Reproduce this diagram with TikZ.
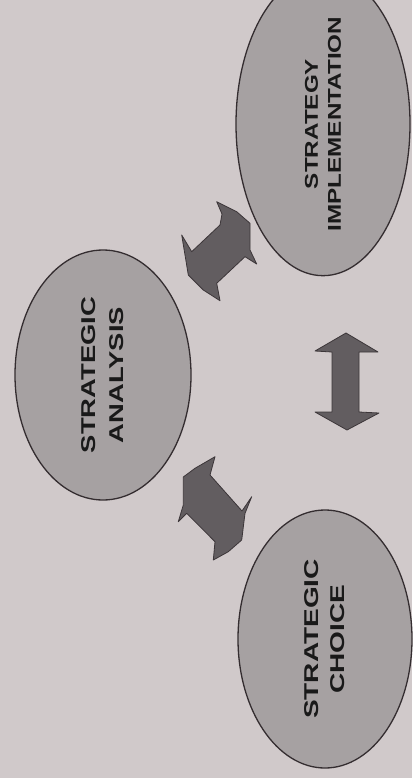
\documentclass[tikz,border=0pt]{standalone}
\usepackage{fontspec}
\setmainfont{Liberation Sans}
\usetikzlibrary{shapes.geometric}
\definecolor{paper}{RGB}{208,201,202}
\definecolor{ovalfill}{RGB}{166,161,162}
\definecolor{ovalline}{RGB}{52,45,48}
\definecolor{arrowfill}{RGB}{98,93,96}
\definecolor{arrowline}{RGB}{60,54,57}
\begin{document}
\begin{tikzpicture}[x=1pt,y=-1pt,
  oval/.style={ellipse, draw=ovalline, line width=1.3pt, fill=ovalfill, inner sep=0pt, rotate=90, align=center, text=black!90},
  blockarrow/.style={fill=arrowfill, draw=arrowline, line width=0.8pt, line join=round}]
\fill[paper] (0,0) rectangle (412,778);
\useasboundingbox (0,0) rectangle (412,778);
\node[oval, minimum width=250pt, minimum height=176pt,
      font={\fontsize{20}{28}\selectfont\bfseries\addfontfeature{FakeStretch=1.37}}] (ana) at (103,375)
      {STRATEGIC\\ANALYSIS};
\node[oval, minimum width=248pt, minimum height=174pt,
      font={\fontsize{18.5}{23}\selectfont\bfseries\addfontfeature{FakeStretch=1.31}}] (imp) at (323,124)
      {STRATEGY\\IMPLEMENTATION};
\node[oval, minimum width=258pt, minimum height=174pt,
      font={\fontsize{20}{26}\selectfont\bfseries\addfontfeature{FakeStretch=1.4}}] (cho) at (325,639)
      {STRATEGIC\\CHOICE};
% upper diagonal double arrow (analysis <-> implementation)
\draw[blockarrow] (216.7,201.7) -- (236.7,211.7) -- (250,223.3) -- (250,250) -- (256.7,264)
  -- (245,256.7) -- (216.7,283.3) -- (220,300.7) -- (203.3,290) -- (188.3,275)
  -- (181.7,235) -- (191.7,251.7) -- (220,225) -- (222,214) -- cycle;
% lower diagonal double arrow (analysis <-> choice)
\draw[blockarrow] (215,456.7) -- (195,468.3) -- (183.3,477) -- (183.3,505) -- (178.3,521.7)
  -- (186.7,513.3) -- (215,541.7) -- (213.3,560) -- (228.3,551.7) -- (241.7,540)
  -- (245,513.3) -- (251.7,496.7) -- (242,511) -- (210,475) -- cycle;
% vertical double arrow (implementation <-> choice)
\draw[blockarrow] (346,333) -- (378,352) -- (359,352) -- (359,412) -- (379,413)
  -- (347,430) -- (315,412) -- (332,412) -- (332,352) -- (315,351) -- cycle;
\end{tikzpicture}
\end{document}
